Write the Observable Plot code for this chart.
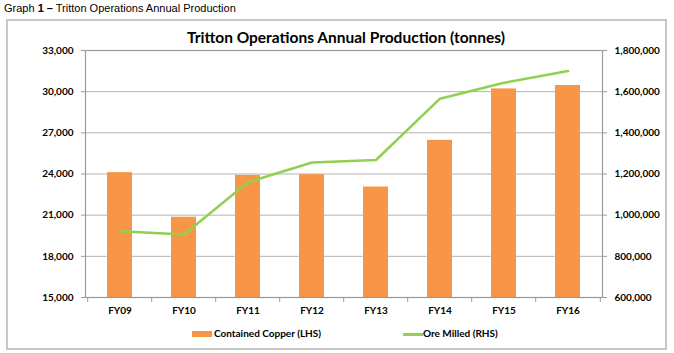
<!DOCTYPE html>
<html>
<head>
<meta charset="utf-8">
<script src="https://cdn.jsdelivr.net/npm/d3@7"></script>
<script src="https://cdn.jsdelivr.net/npm/@observablehq/plot@0.6"></script>
<style>
  html, body { margin: 0; padding: 0; background: #fff; }
  #page { position: relative; width: 674px; height: 353px; overflow: hidden; font-family: Lato, "Open Sans", sans-serif; }
  #header { position: absolute; left: 4px; top: 2px; font-family: "Liberation Sans Narrow", "Liberation Sans", Arial, sans-serif; font-size: 11px; color: #000; white-space: nowrap; }
  #frame { position: absolute; left: 6px; top: 19px; width: 661px; height: 331px; border: 2px solid #c8c8c8; box-sizing: border-box; }
  #title { position: absolute; left: 346px; top: 28px; transform: translateX(-50%); font-weight: bold; font-size: 15.5px; white-space: nowrap; color: #000; }
  #chart { position: absolute; left: 0; top: 0; }
  .leg { position: absolute; font-weight: bold; font-size: 10px; white-space: nowrap; color: #000; }
  .sw { position: absolute; }
</style>
</head>
<body>
<div id="page">
  <div id="header">Graph <b>1 –</b> Tritton Operations Annual Production</div>
  <div id="frame"></div>
  <div id="chart"></div>
  <div id="title">Tritton Operations Annual Production (tonnes)</div>
  <div class="sw" style="left:192px;top:331px;width:20px;height:6px;background:#f79646"></div>
  <div class="leg" style="left:214px;top:327px">Contained Copper (LHS)</div>
  <div class="sw" style="left:403px;top:333px;width:20px;height:2.5px;background:#92d050"></div>
  <div class="leg" style="left:423px;top:327px">Ore Milled (RHS)</div>
</div>
<script>
const years = ["FY09", "FY10", "FY11", "FY12", "FY13", "FY14", "FY15", "FY16"];
const copper = [24100, 20850, 23900, 23950, 23050, 26450, 30200, 30450];
const oreMilled = [922000, 906000, 1160000, 1256000, 1268000, 1566000, 1643000, 1700000];
const leftTicks = [15000, 18000, 21000, 24000, 27000, 30000, 33000];
const rightTicks = [600000, 800000, 1000000, 1200000, 1400000, 1600000, 1800000];

// map right-hand values onto the left scale domain
const lMin = 15000, lMax = 33000, rMin = 600000, rMax = 1800000;
const toLeft = v => lMin + (v - rMin) * (lMax - lMin) / (rMax - rMin);
const toRight = v => rMin + (v - lMin) * (rMax - rMin) / (lMax - lMin);

const data = years.map((fy, i) => ({fy, copper: copper[i], ore: oreMilled[i], oreL: toLeft(oreMilled[i])}));

const W = 674, H = 353;
const mL = 85, mR = 72, mT = 50, mB = 56;
const step = (W - mL - mR) / years.length;
const fmt = d3.format(",");
const gridColor = "#b3b3b3";
const axisColor = "#9a9a9a";

const chart = Plot.plot({
  width: W,
  height: H,
  marginLeft: mL,
  marginRight: mR,
  marginTop: mT,
  marginBottom: mB,
  style: {fontFamily: "Lato, 'Open Sans', sans-serif", background: "transparent"},
  x: {domain: years, paddingInner: 0.61, paddingOuter: 0.305, align: 0.5, label: null},
  y: {domain: [lMin, lMax], label: null},
  marks: [
    Plot.gridY(leftTicks.slice(1, -1), {stroke: gridColor, strokeOpacity: 1}),
    Plot.barY(data, {x: "fy", y1: lMin, y2: "copper", fill: "#f79646"}),
    Plot.frame({stroke: axisColor, strokeWidth: 1.2}),
    Plot.line(data, {x: "fy", y: "oreL", stroke: "#92d050", strokeWidth: 2.5}),
    Plot.axisY({anchor: "left", ticks: leftTicks, tickFormat: fmt, tickSize: 4, tickPadding: 8, label: null,
      stroke: axisColor, fill: "#000", fontWeight: "bold", fontSize: 10}),
    Plot.axisY({anchor: "right", ticks: rightTicks.map(toLeft), tickFormat: d => fmt(Math.round(toRight(d))), label: null,
      tickSize: 4, tickPadding: 8, stroke: axisColor, fill: "#000", fontWeight: "bold", fontSize: 10}),
    Plot.axisX({anchor: "bottom", tickSize: 0, tickPadding: 9, label: null, fill: "#000", fontWeight: "bold", fontSize: 10}),
    Plot.axisX({anchor: "bottom", tickSize: 5, tickFormat: () => "", label: null, dx: -step / 2, stroke: axisColor}),
    Plot.axisX({anchor: "bottom", ticks: [years[years.length - 1]], tickSize: 5, tickFormat: () => "", label: null, dx: step / 2, stroke: axisColor})
  ]
});
document.getElementById("chart").appendChild(chart);
</script>
</body>
</html>
